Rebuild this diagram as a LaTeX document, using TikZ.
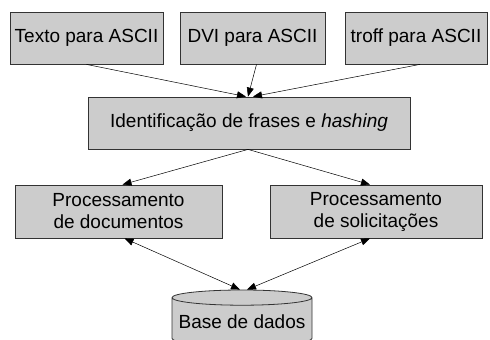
\documentclass[tikz,border=0pt]{standalone}
\usepackage{fontspec}
\setmainfont{Liberation Sans}
\usepackage{tikz}
\usetikzlibrary{arrows.meta}
\tikzset{>={Triangle[length=9pt,width=7pt]}}
\usetikzlibrary{shapes.geometric}
\definecolor{boxfill}{HTML}{CCCCCC}
\definecolor{boxline}{HTML}{333333}
\tikzset{
    etapa/.style={draw=boxline,fill=boxfill,line width=0.8pt,inner sep=0pt,
        align=center,font=\fontsize{19}{22}\selectfont},
    banco/.style={cylinder,shape border rotate=90,draw=boxline,fill=boxfill,
        line width=0.8pt,inner sep=0pt,aspect=0.12,
        font=\fontsize{19}{22}\selectfont}
}

\begin{document}
\begin{tikzpicture}[x=1pt,y=-1pt]
    \useasboundingbox (0,0) rectangle (490,340);
    \node[etapa,minimum width=153pt,minimum height=52pt] at (86.5,38) (texto) {Texto para ASCII};
    \node[etapa,minimum width=145pt,minimum height=52pt] at (252.5,38) (dvi) {DVI para ASCII};
    \node[etapa,minimum width=142pt,minimum height=52pt] at (416,38) (troff) {troff para ASCII};
    \node[etapa,minimum width=322pt,minimum height=52pt] at (249,123) (hash) {Identificação de frases e \textit{hashing}};
    \node[etapa,minimum width=207pt,minimum height=53pt] at (118.5,211.5) (docs) {Processamento\\de documentos};
    \node[etapa,minimum width=212pt,minimum height=53pt] at (376,211.5) (solic) {Processamento\\de solicitações};
    \node[banco,minimum width=140pt,minimum height=56pt] at (242,322) (base) {Base de dados};
    \path[->, line width=0.5pt]
    (texto.south) edge ([xshift=-3pt]hash.north)
    ([xshift=4pt]dvi.south) edge ([xshift=-1pt]hash.north)
    ([xshift=4pt]troff.south) edge ([xshift=4pt]hash.north)
    ([xshift=-1pt]hash.south) edge ([xshift=4pt]docs.north)
    ([xshift=-1pt]hash.south) edge ([xshift=-6pt]solic.north)
    ;
    \path[<->, line width=0.5pt]
    ([xshift=6pt]docs.south) edge ([xshift=-2pt]base.north)
    ([xshift=-6pt]solic.south) edge ([xshift=5pt]base.north)
    ;
\end{tikzpicture}
\end{document}
